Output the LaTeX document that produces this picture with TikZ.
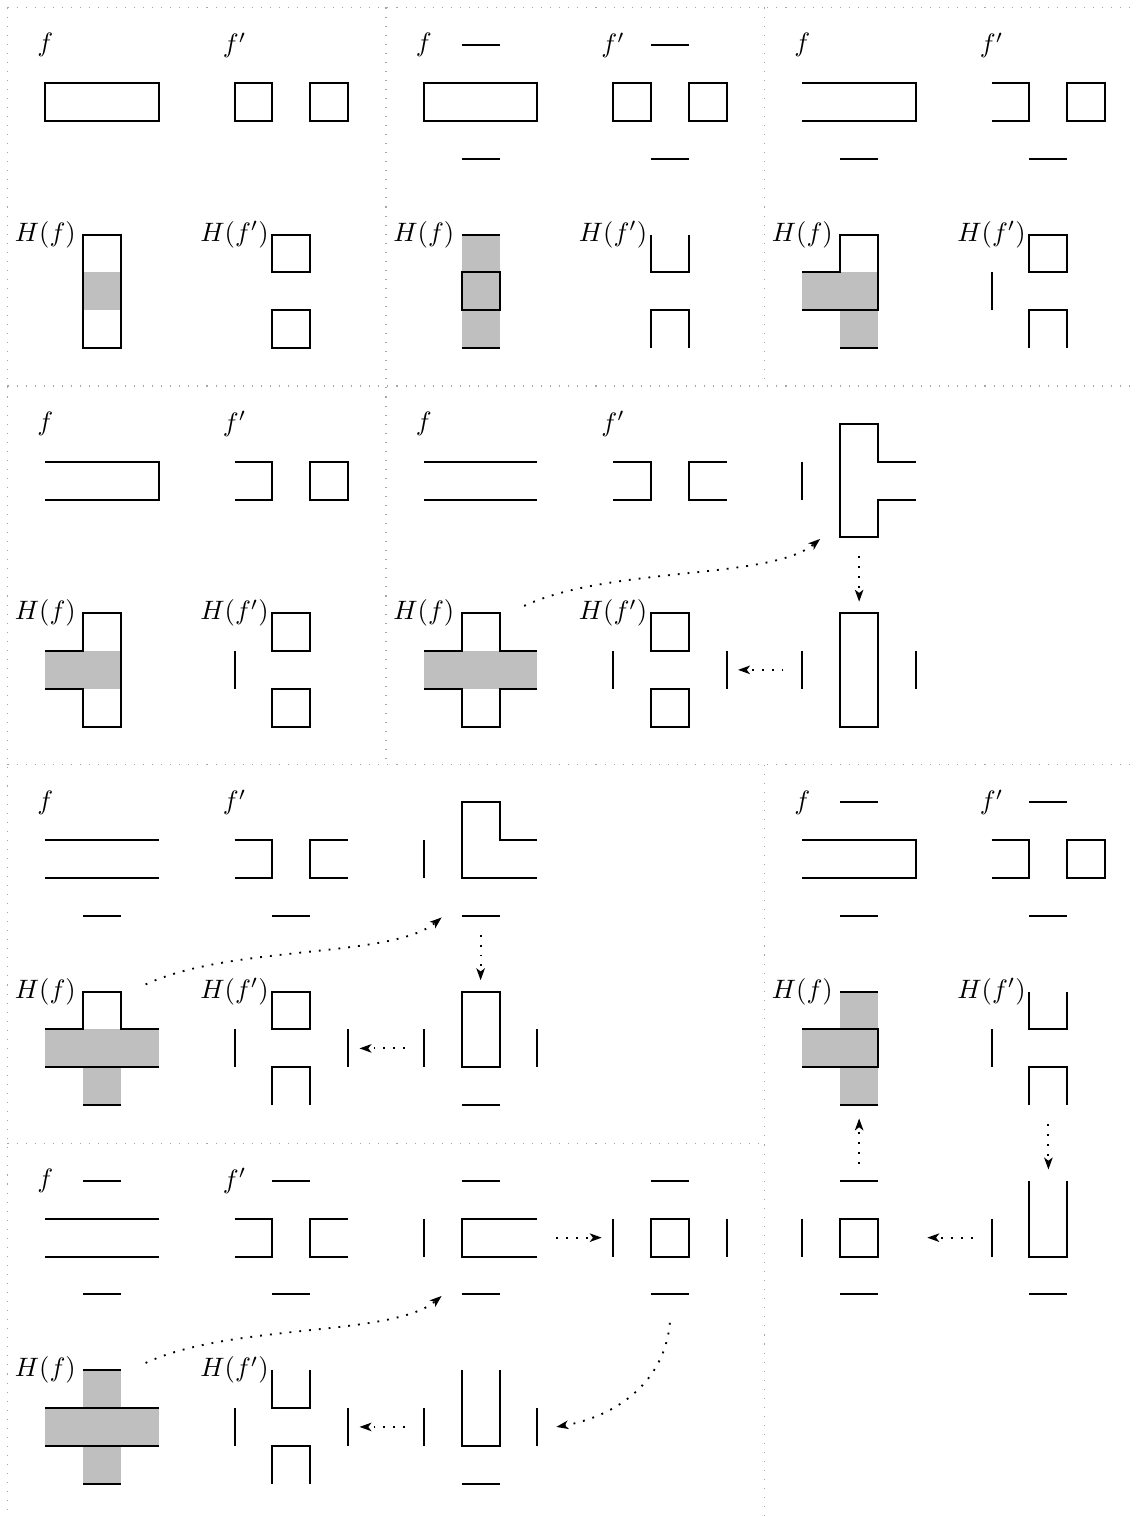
\documentclass[tikz,border=0pt]{standalone}
\usetikzlibrary{arrows.meta}
\begin{document}
\begin{tikzpicture}[x=0.5cm,y=-0.5cm,
  shp/.style={line width=0.75pt},
  gfill/.style={fill=lightgray},
  sepline/.style={draw=gray!70,line width=0.4pt,dash pattern=on 0.4pt off 3pt},
  arr/.style={line width=0.7pt,dash pattern=on 0.7pt off 3pt,-{Stealth[length=4.5pt,width=3.2pt,inset=1.2pt]}},
  lbl/.style={inner sep=0pt}]
\useasboundingbox (-0.197,-0.197) rectangle (29.79,39.88);

% ---------- separators ----------
\draw[sepline] (0,0) -- (30,0);
\draw[sepline] (0,10) -- (30,10);
\draw[sepline] (0,20) -- (30,20);
\draw[sepline] (0,30) -- (20,30);
\draw[sepline] (0,0) -- (0,40);
\draw[sepline] (10,0) -- (10,20);
\draw[sepline] (20,0) -- (20,10);
\draw[sepline] (20,20) -- (20,40);

% ---------- labels ----------
\foreach \n/\x/\y in {A/0/0,B/10/0,C/20/0,D/0/10,E/10/10,F/0/20,G/20/20,H/0/30}{
  \node[lbl] (f\n)  at (\x+1,\y+1) {$f$};
  \node[lbl] (fp\n) at (\x+6,\y+1) {$f'$};
  \node[lbl] (H\n)  at (\x+1,\y+6) {$H(f)$};
  \node[lbl] (Hp\n) at (\x+6,\y+6) {$H(f')$};
}

% ---------- panel A ----------
\draw[shp] (1,2) rectangle (4,3);
\draw[shp] (6,2) rectangle (7,3);
\draw[shp] (8,2) rectangle (9,3);
\fill[gfill] (2,7) rectangle (3,8);
\draw[shp] (2,6) rectangle (3,9);
\draw[shp] (7,6) rectangle (8,7);
\draw[shp] (7,8) rectangle (8,9);

% ---------- panel B ----------
\draw[shp] (12,1) -- (13,1);
\draw[shp] (17,1) -- (18,1);
\draw[shp] (11,2) rectangle (14,3);
\draw[shp] (16,2) rectangle (17,3);
\draw[shp] (18,2) rectangle (19,3);
\draw[shp] (12,4) -- (13,4);
\draw[shp] (17,4) -- (18,4);
\fill[gfill] (12,6) rectangle (13,9);
\draw[shp] (12,6) -- (13,6);
\draw[shp] (12,7) rectangle (13,8);
\draw[shp] (12,9) -- (13,9);
\draw[shp] (17,6) -- (17,7) -- (18,7) -- (18,6);
\draw[shp] (17,9) -- (17,8) -- (18,8) -- (18,9);

% ---------- panel C ----------
\draw[shp] (21,2) -- (24,2) -- (24,3) -- (21,3);
\draw[shp] (26,2) -- (27,2) -- (27,3) -- (26,3);
\draw[shp] (28,2) rectangle (29,3);
\draw[shp] (22,4) -- (23,4);
\draw[shp] (27,4) -- (28,4);
\fill[gfill] (21,7) rectangle (23,8);
\fill[gfill] (22,8) rectangle (23,9);
\draw[shp] (21,7) -- (22,7) -- (22,6) -- (23,6) -- (23,8) -- (21,8);
\draw[shp] (22,9) -- (23,9);
\draw[shp] (27,6) rectangle (28,7);
\draw[shp] (26,7) -- (26,8);
\draw[shp] (27,9) -- (27,8) -- (28,8) -- (28,9);

% ---------- panel D ----------
\draw[shp] (1,12) -- (4,12) -- (4,13) -- (1,13);
\draw[shp] (6,12) -- (7,12) -- (7,13) -- (6,13);
\draw[shp] (8,12) rectangle (9,13);
\fill[gfill] (1,17) rectangle (3,18);
\draw[shp] (1,17) -- (2,17) -- (2,16) -- (3,16) -- (3,19) -- (2,19) -- (2,18) -- (1,18);
\draw[shp] (7,16) rectangle (8,17);
\draw[shp] (6,17) -- (6,18);
\draw[shp] (7,18) rectangle (8,19);

% ---------- panel E ----------
\draw[shp] (11,12) -- (14,12);
\draw[shp] (11,13) -- (14,13);
\draw[shp] (16,12) -- (17,12) -- (17,13) -- (16,13);
\draw[shp] (19,12) -- (18,12) -- (18,13) -- (19,13);
\draw[shp] (21,12) -- (21,13);
\draw[shp] (24,12) -- (23,12) -- (23,11) -- (22,11) -- (22,14) -- (23,14) -- (23,13) -- (24,13);
\fill[gfill] (11,17) rectangle (14,18);
\draw[shp] (11,17) -- (12,17) -- (12,16) -- (13,16) -- (13,17) -- (14,17);
\draw[shp] (11,18) -- (12,18) -- (12,19) -- (13,19) -- (13,18) -- (14,18);
\draw[shp] (17,16) rectangle (18,17);
\draw[shp] (16,17) -- (16,18);
\draw[shp] (17,18) rectangle (18,19);
\draw[shp] (19,17) -- (19,18);
\draw[shp] (21,17) -- (21,18);
\draw[shp] (22,16) rectangle (23,19);
\draw[shp] (24,17) -- (24,18);
\coordinate (e1s) at (13.65,15.81);
\coordinate (e1t) at (21.47,14.04);
\coordinate (e2s) at (22.5,14.5);
\coordinate (e2t) at (22.5,15.7);
\coordinate (e3s) at (20.5,17.5);
\coordinate (e3t) at (19.3,17.5);
\draw[arr] (e1s) .. controls +(2.27,-1.06) and +(-1.30,1.09) .. (e1t);
\draw[arr] (e2s) -- (e2t);
\draw[arr] (e3s) -- (e3t);

% ---------- panel F ----------
\draw[shp] (1,22) -- (4,22);
\draw[shp] (1,23) -- (4,23);
\draw[shp] (2,24) -- (3,24);
\draw[shp] (6,22) -- (7,22) -- (7,23) -- (6,23);
\draw[shp] (9,22) -- (8,22) -- (8,23) -- (9,23);
\draw[shp] (7,24) -- (8,24);
\draw[shp] (11,22) -- (11,23);
\draw[shp] (14,22) -- (13,22) -- (13,21) -- (12,21) -- (12,23) -- (14,23);
\draw[shp] (12,24) -- (13,24);
\fill[gfill] (1,27) rectangle (4,28);
\fill[gfill] (2,28) rectangle (3,29);
\draw[shp] (1,27) -- (2,27) -- (2,26) -- (3,26) -- (3,27) -- (4,27);
\draw[shp] (1,28) -- (4,28);
\draw[shp] (2,29) -- (3,29);
\draw[shp] (7,26) rectangle (8,27);
\draw[shp] (6,27) -- (6,28);
\draw[shp] (7,29) -- (7,28) -- (8,28) -- (8,29);
\draw[shp] (9,27) -- (9,28);
\draw[shp] (11,27) -- (11,28);
\draw[shp] (12,26) rectangle (13,28);
\draw[shp] (14,27) -- (14,28);
\draw[shp] (12,29) -- (13,29);
\coordinate (f1s) at (3.65,25.81);
\coordinate (f1t) at (11.47,24.04);
\coordinate (f2s) at (12.5,24.5);
\coordinate (f2t) at (12.5,25.7);
\coordinate (f3s) at (10.5,27.5);
\coordinate (f3t) at (9.3,27.5);
\draw[arr] (f1s) .. controls +(2.27,-1.06) and +(-1.30,1.09) .. (f1t);
\draw[arr] (f2s) -- (f2t);
\draw[arr] (f3s) -- (f3t);

% ---------- panel G ----------
\draw[shp] (22,21) -- (23,21);
\draw[shp] (27,21) -- (28,21);
\draw[shp] (21,22) -- (24,22) -- (24,23) -- (21,23);
\draw[shp] (22,24) -- (23,24);
\draw[shp] (26,22) -- (27,22) -- (27,23) -- (26,23);
\draw[shp] (28,22) rectangle (29,23);
\draw[shp] (27,24) -- (28,24);
\fill[gfill] (22,26) rectangle (23,29);
\fill[gfill] (21,27) rectangle (22,28);
\draw[shp] (22,26) -- (23,26);
\draw[shp] (21,27) -- (23,27) -- (23,28) -- (21,28);
\draw[shp] (22,29) -- (23,29);
\draw[shp] (27,26) -- (27,27) -- (28,27) -- (28,26);
\draw[shp] (26,27) -- (26,28);
\draw[shp] (27,29) -- (27,28) -- (28,28) -- (28,29);
\draw[shp] (22,31) -- (23,31);
\draw[shp] (21,32) -- (21,33);
\draw[shp] (22,32) rectangle (23,33);
\draw[shp] (22,34) -- (23,34);
\draw[shp] (26,32) -- (26,33);
\draw[shp] (27,31) -- (27,33) -- (28,33) -- (28,31);
\draw[shp] (27,34) -- (28,34);
\coordinate (g1s) at (22.5,30.55);
\coordinate (g1t) at (22.5,29.35);
\coordinate (g2s) at (27.5,29.5);
\coordinate (g2t) at (27.5,30.7);
\coordinate (g3s) at (25.5,32.5);
\coordinate (g3t) at (24.3,32.5);
\draw[arr] (g1s) -- (g1t);
\draw[arr] (g2s) -- (g2t);
\draw[arr] (g3s) -- (g3t);

% ---------- panel H ----------
\draw[shp] (2,31) -- (3,31);
\draw[shp] (7,31) -- (8,31);
\draw[shp] (1,32) -- (4,32);
\draw[shp] (1,33) -- (4,33);
\draw[shp] (2,34) -- (3,34);
\draw[shp] (6,32) -- (7,32) -- (7,33) -- (6,33);
\draw[shp] (9,32) -- (8,32) -- (8,33) -- (9,33);
\draw[shp] (7,34) -- (8,34);
\draw[shp] (12,31) -- (13,31);
\draw[shp] (11,32) -- (11,33);
\draw[shp] (14,32) -- (12,32) -- (12,33) -- (14,33);
\draw[shp] (12,34) -- (13,34);
\draw[shp] (17,31) -- (18,31);
\draw[shp] (16,32) -- (16,33);
\draw[shp] (17,32) rectangle (18,33);
\draw[shp] (19,32) -- (19,33);
\draw[shp] (17,34) -- (18,34);
\fill[gfill] (2,36) rectangle (3,37);
\fill[gfill] (1,37) rectangle (2,38);
\fill[gfill] (2,37) rectangle (3,38);
\fill[gfill] (3,37) rectangle (4,38);
\fill[gfill] (2,38) rectangle (3,39);
\draw[shp] (2,36) -- (3,36);
\draw[shp] (1,37) -- (4,37);
\draw[shp] (1,38) -- (4,38);
\draw[shp] (2,39) -- (3,39);
\draw[shp] (7,36) -- (7,37) -- (8,37) -- (8,36);
\draw[shp] (6,37) -- (6,38);
\draw[shp] (7,39) -- (7,38) -- (8,38) -- (8,39);
\draw[shp] (9,37) -- (9,38);
\draw[shp] (11,37) -- (11,38);
\draw[shp] (12,36) -- (12,38) -- (13,38) -- (13,36);
\draw[shp] (14,37) -- (14,38);
\draw[shp] (12,39) -- (13,39);
\coordinate (h1s) at (14.5,32.5);
\coordinate (h1t) at (15.7,32.5);
\coordinate (h2s) at (17.5,34.75);
\coordinate (h2t) at (14.5,37.5);
\coordinate (h3s) at (3.65,35.81);
\coordinate (h3t) at (11.47,34.04);
\coordinate (h4s) at (10.5,37.5);
\coordinate (h4t) at (9.3,37.5);
\draw[arr] (h1s) -- (h1t);
\draw[arr] (h2s) .. controls +(-0.14,1.58) and +(1.57,-0.28) .. (h2t);
\draw[arr] (h3s) .. controls +(2.27,-1.06) and +(-1.30,1.09) .. (h3t);
\draw[arr] (h4s) -- (h4t);
\end{tikzpicture}
\end{document}
